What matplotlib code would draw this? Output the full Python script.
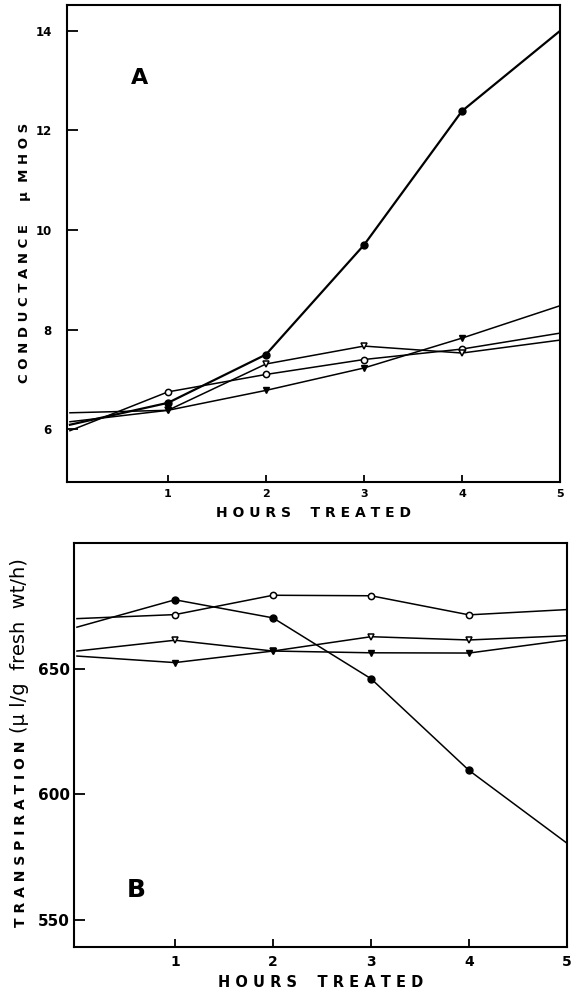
import matplotlib
matplotlib.use("Agg")
import matplotlib.pyplot as plt

# hours treated
hours = [0, 1, 2, 3, 4, 5]

# panel A: conductance (umhos)
cond_filled_circle = [6.09, 6.53, 7.50, 9.70, 12.39, 14.00]
cond_open_circle = [5.97, 6.75, 7.10, 7.40, 7.61, 7.93]
cond_open_tri = [6.15, 6.38, 7.31, 7.67, 7.53, 7.79]
cond_filled_tri = [6.33, 6.38, 6.78, 7.23, 7.83, 8.48]

# panel B: transpiration (ul/g fresh wt/h)
tr_filled_circle = [666.5, 677.4, 670.2, 646.0, 609.5, 580.5]
tr_open_circle = [669.9, 671.5, 679.2, 679.0, 671.4, 673.5]
tr_open_tri = [657.0, 661.3, 657.0, 662.7, 661.4, 663.1]
tr_filled_tri = [655.0, 652.4, 657.0, 656.3, 656.2, 661.4]

a_yticks = [6, 8, 10, 12, 14]
b_yticks = [550, 600, 650]
xticks = [1, 2, 3, 4, 5]

W, H = 574, 993
fig = plt.figure(figsize=(W / 100, H / 100), dpi=100)
fig.patch.set_facecolor("white")


def box(l, t, r, b):
    return [l / W, 1 - b / H, (r - l) / W, (b - t) / H]


styles = [
    dict(marker="o", mfc="black", mec="black", ms=5),
    dict(marker="o", mfc="white", mec="black", ms=4.5, mew=1.1),
    dict(marker="v", mfc="white", mec="black", ms=5, mew=1.1),
    dict(marker="v", mfc="black", mec="black", ms=5),
]


def draw(ax, series, lws):
    for ys, st, lw in zip(series, styles, lws):
        ax.plot(hours, ys, color="black", lw=lw, markevery=[1, 2, 3, 4],
                zorder=3, **st)
    for s in ax.spines.values():
        s.set_linewidth(1.5)
    ax.set_xlim(-0.03, 5.0)
    ax.set_xticks(xticks)


# ---- panel A
axA = fig.add_axes(box(67, 5, 560, 482))
draw(axA, [cond_filled_circle, cond_open_circle, cond_open_tri, cond_filled_tri],
     [1.6, 1.1, 1.1, 1.1])
axA.set_ylim(4.94, 14.52)
axA.set_yticks(a_yticks)
axA.set_yticklabels([str(v) for v in a_yticks], fontsize=8.5,
                    fontweight="bold")
axA.set_xticklabels([str(v) for v in xticks], fontsize=8, fontweight="bold")
axA.tick_params(axis="y", direction="in", length=8, width=1.3, pad=11)
axA.tick_params(axis="x", direction="in", length=5, width=1.3, pad=5)
axA.text(0.71, 13.06, "A", fontsize=16, fontweight="bold", ha="center",
         va="center")
axA.set_xlabel("H O U R S    T R E A T E D", fontsize=10, fontweight="bold",
               labelpad=5)
fig.text(25 / W, 1 - 253 / H, "C O N D U C T A N C E     \u03bc  M H O S",
         rotation=90, ha="center", va="center", fontsize=9.5,
         fontweight="bold")

# ---- panel B
axB = fig.add_axes(box(74, 543, 567, 947))
draw(axB, [tr_filled_circle, tr_open_circle, tr_open_tri, tr_filled_tri],
     [1.1, 1.1, 1.1, 1.1])
axB.set_ylim(539.2, 700)
axB.set_yticks(b_yticks)
axB.set_yticklabels([str(v) for v in b_yticks], fontsize=11,
                    fontweight="bold")
axB.set_xticklabels([str(v) for v in xticks], fontsize=10, fontweight="bold")
axB.tick_params(axis="y", direction="in", length=8, width=1.3, pad=3)
axB.tick_params(axis="x", direction="in", length=6, width=1.3, pad=6)
axB.text(0.61, 562, "B", fontsize=18, fontweight="bold", ha="center",
         va="center")
axB.set_xlabel("H O U R S    T R E A T E D", fontsize=10.5, fontweight="bold",
               labelpad=4)
fig.text(25 / W, 1 - 927 / H, "T R A N S P I R A T I O N ", rotation=90,
         rotation_mode="anchor", ha="left", va="baseline", fontsize=10,
         fontweight="bold")
fig.text(25 / W, 1 - 733 / H, "(\u03bc l/g  fresh  wt/h)", rotation=90,
         rotation_mode="anchor", ha="left", va="baseline", fontsize=14)

fig.savefig("out.png", dpi=100, facecolor="white")
